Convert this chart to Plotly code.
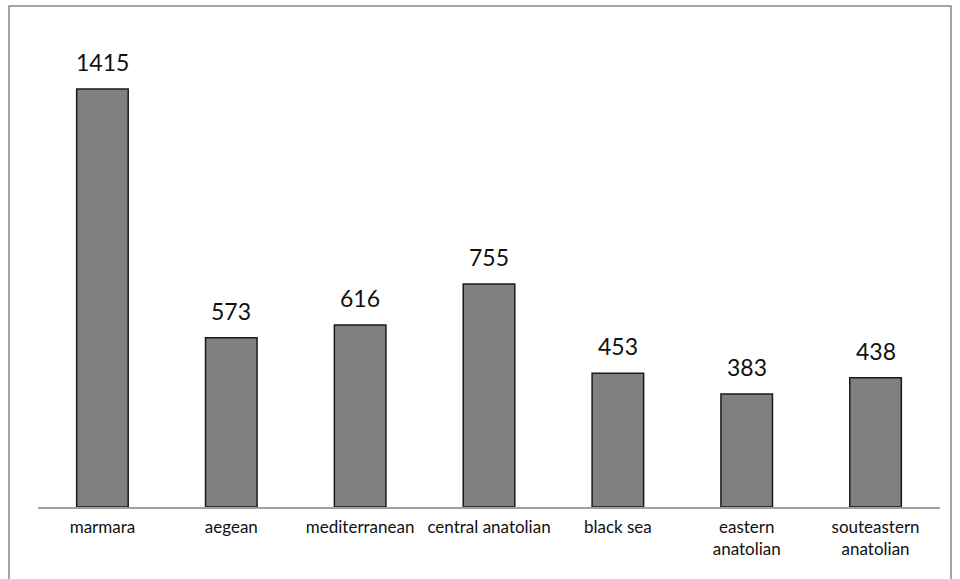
import plotly.graph_objects as go

categories = ["marmara", "aegean", "mediterranean", "central anatolian",
              "black sea", "eastern<br>anatolian", "souteastern<br>anatolian"]
values = [1415, 573, 616, 755, 453, 383, 438]

FONT = "Lato"

fig = go.Figure()
fig.add_trace(go.Bar(
    x=categories, y=values,
    marker=dict(color="#808080", line=dict(color="#1a1a1a", width=1.5)),
    width=0.4,
    hoverinfo="x+y",
))

for c, v in zip(categories, values):
    fig.add_annotation(x=c, y=v, text=str(v), showarrow=False,
                       yanchor="bottom", yshift=11,
                       font=dict(family=FONT, size=23, color="#111111"))

# outer chart border
L, R, T, B = 38, 940, 30, 507
def px(x):
    return (x - L) / (R - L)
def py(y):
    return (B - y) / (B - T)
fig.add_shape(type="rect", xref="paper", yref="paper",
              x0=px(9), x1=px(951), y0=py(600), y1=py(6),
              line=dict(color="#878787", width=1.5), fillcolor="rgba(0,0,0,0)")

fig.update_layout(
    width=960, height=579,
    margin=dict(l=L, r=960 - R, t=T, b=579 - B),
    paper_bgcolor="white", plot_bgcolor="white",
    showlegend=False,
    bargap=0.6,
    font=dict(family=FONT, color="#111111"),
)
fig.update_xaxes(showline=True, linecolor="#a0a0a0", linewidth=1.5,
                 ticks="", ticklabelstandoff=4,
                 tickfont=dict(family=FONT, size=17, color="#111111"),
                 showgrid=False, zeroline=False)
fig.update_yaxes(range=[0, 1615], visible=False, showgrid=False, zeroline=False)

fig.write_html("out.html")
